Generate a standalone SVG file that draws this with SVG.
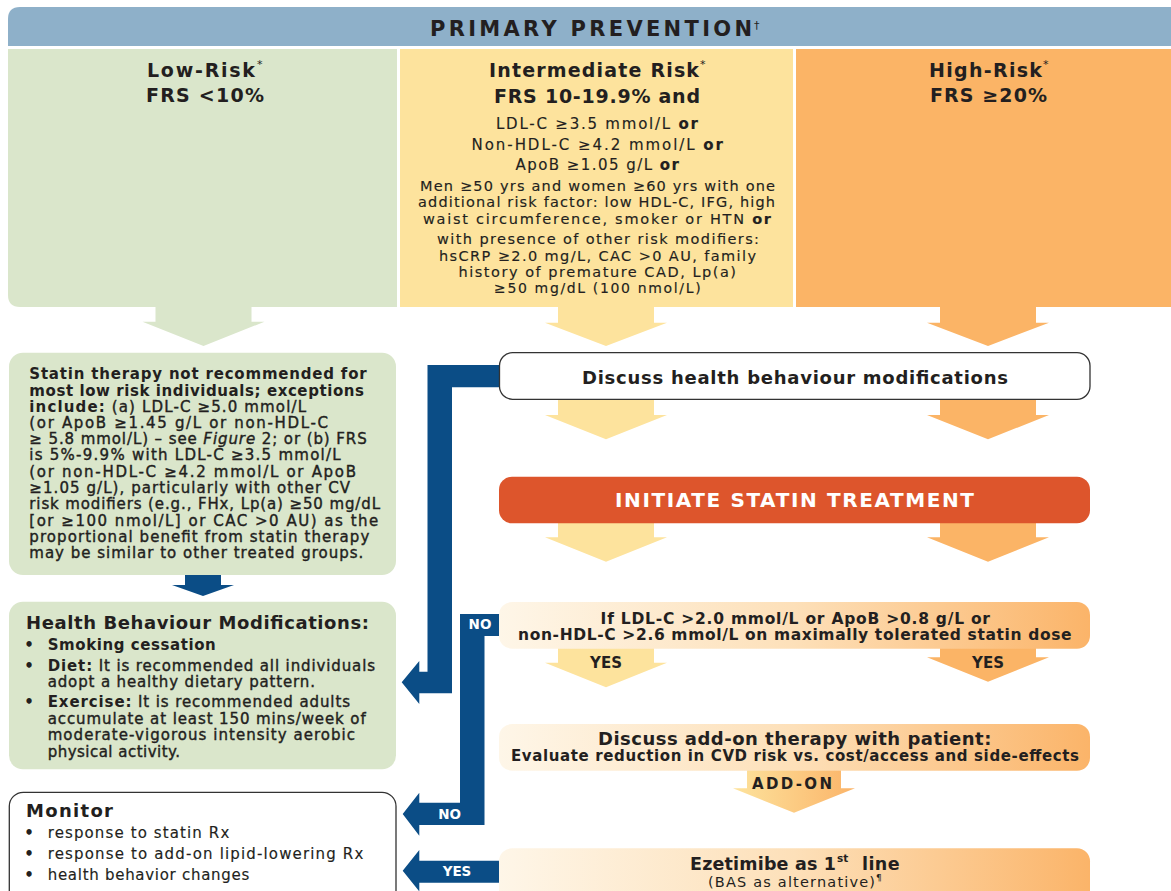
<svg xmlns="http://www.w3.org/2000/svg" width="1171" height="891" viewBox="0 0 1171 891">
<defs>
<linearGradient id="gOr" x1="0" y1="0" x2="1" y2="0">
<stop offset="0" stop-color="#fef6e8"/>
<stop offset="0.5" stop-color="#fde0b9"/>
<stop offset="1" stop-color="#fbb469"/>
</linearGradient>
<linearGradient id="gAdd" x1="0" y1="0" x2="1" y2="0">
<stop offset="0" stop-color="#fde39d"/>
<stop offset="1" stop-color="#fbb469"/>
</linearGradient>
<style>
text{font-family:"DejaVu Sans","Liberation Sans",Arial,sans-serif;fill:#231f20}
.b{font-weight:bold}
.m{font-weight:normal;stroke:#231f20;stroke-width:0.4}
.r{font-weight:normal}
.y{font-weight:normal;stroke:#231f20;stroke-width:0.15}
.s145{font-size:14.5px}
.s15{font-size:15px}
.s18{font-size:18px}
.s19{font-size:19px}
.w{fill:#ffffff}
.lbl{font-size:13.5px;font-weight:bold;fill:#ffffff}
.sup{font-size:11px}
.green{fill:#dae6cb}
.yellow{fill:#fde39d}
.orange{fill:#fbb466}
.blue{fill:#0b4d86}
.outline{fill:#ffffff;stroke:#333333;stroke-width:1.3}
</style>
</defs>

<g id="header">
<path d="M8,19 Q8,7 20,7 H1171 V46 H8 Z" fill="#8eb0c9"/>
<text class="b" font-size="21" x="430" y="35.5" textLength="322" lengthAdjust="spacing">PRIMARY PREVENTION</text>
<text class="sup" x="754" y="29">†</text>
</g>

<g id="col-low">
<path d="M8,49 H397 V307 H20 Q8,307 8,295 Z" class="green"/>
<text class="b s19" x="147" y="77" textLength="108" lengthAdjust="spacing">Low-Risk</text>
<text class="sup" x="257" y="68">*</text>
<text class="b s19" x="146" y="102" textLength="118" lengthAdjust="spacing">FRS &lt;10%</text>
</g>

<g id="col-intermediate">
<rect x="400" y="49" width="393" height="258" class="yellow"/>
<text class="b s19" x="489" y="77" textLength="210" lengthAdjust="spacing">Intermediate Risk</text>
<text class="sup" x="700" y="68">*</text>
<text class="b s19" x="494" y="103" textLength="206" lengthAdjust="spacing">FRS 10-19.9% and</text>
<text class="y s15" x="496" y="128.8" textLength="202" lengthAdjust="spacing">LDL-C ≥3.5 mmol/L <tspan class="b">or</tspan></text>
<text class="y s15" x="471.5" y="149.5" textLength="251.5" lengthAdjust="spacing">Non-HDL-C ≥4.2 mmol/L <tspan class="b">or</tspan></text>
<text class="y s15" x="515.5" y="170.2" textLength="163.5" lengthAdjust="spacing">ApoB ≥1.05 g/L <tspan class="b">or</tspan></text>
<text class="y s145" x="420" y="191" textLength="355" lengthAdjust="spacing">Men ≥50 yrs and women ≥60 yrs with one</text>
<text class="y s145" x="418" y="207.3" textLength="357" lengthAdjust="spacing">additional risk factor: low HDL-C, IFG, high</text>
<text class="y s145" x="423" y="223.6" textLength="348" lengthAdjust="spacing">waist circumference, smoker or HTN <tspan class="b">or</tspan></text>
<text class="y s145" x="437" y="244.3" textLength="322" lengthAdjust="spacing">with presence of other risk modifiers:</text>
<text class="y s145" x="439" y="260.6" textLength="317" lengthAdjust="spacing">hsCRP ≥2.0 mg/L, CAC &gt;0 AU, family</text>
<text class="y s145" x="458.5" y="276.6" textLength="277.5" lengthAdjust="spacing">history of premature CAD, Lp(a)</text>
<text class="y" font-size="14" x="494" y="293.2" textLength="206.6" lengthAdjust="spacing">≥50 mg/dL (100 nmol/L)</text>
</g>

<g id="col-high">
<rect x="796" y="49" width="375" height="258" class="orange"/>
<text class="b s19" x="929" y="77" textLength="113" lengthAdjust="spacing">High-Risk</text>
<text class="sup" x="1043" y="68">*</text>
<text class="b s19" x="930" y="102" textLength="117" lengthAdjust="spacing">FRS ≥20%</text>
</g>

<g id="connectors">
<polygon class="green" points="155.5,307 251.5,307 251.5,321.7 264.5,321.7 203.5,346 142.5,321.7 155.5,321.7"/>
<polygon class="yellow" points="558,307 654,307 654,322.7 667,322.7 606,346 545,322.7 558,322.7"/>
<polygon class="orange" points="940,307 1036,307 1036,322.7 1049,322.7 988,346 927,322.7 940,322.7"/>
<polygon class="yellow" points="558,399 654,399 654,415 667,415 606,439.3 545,415 558,415"/>
<polygon class="orange" points="940,399 1036,399 1036,415 1049,415 988,439.3 927,415 940,415"/>
<polygon class="yellow" points="558,523 654,523 654,537.3 667,537.3 606,561.7 545,537.3 558,537.3"/>
<polygon class="orange" points="940,523 1036,523 1036,537.3 1049,537.3 988,561.7 927,537.3 940,537.3"/>
<polygon class="yellow" points="558,648 654,648 654,662.7 667,662.7 606,687.3 545,662.7 558,662.7"/>
<polygon class="orange" points="940,648 1036,648 1036,657.3 1049,657.3 988,681.7 927,657.3 940,657.3"/>
<polygon fill="url(#gAdd)" points="747,770 841,770 841,788.3 855,788.3 794,812.7 733,788.3 747,788.3"/>
<polygon class="blue" points="185,575 221,575 221,585 234,585 203,596 172,585 185,585"/>
<path class="blue" d="M499.5,365 H427.5 V671.7 H419.3 V661 L401.7,682.3 L419.3,704 V693.3 H452 V387.3 H499.5 Z"/>
<path class="blue" d="M460,614 H499.5 V636 H484.5 V825 H419.3 V835.7 L402.7,814 L419.3,792.7 V802.7 H460 Z"/>
<path class="blue" d="M499.5,860.7 H419.3 V850 L402.7,870.7 L419.3,891.4 V882.7 H499.5 Z"/>
<text class="b" x="606" y="668" font-size="15" text-anchor="middle">YES</text>
<text class="b" x="988" y="668" font-size="15" text-anchor="middle">YES</text>
<text class="b" x="752" y="788.6" font-size="15" textLength="80" lengthAdjust="spacing">ADD-ON</text>
<text class="lbl" x="480" y="629.3" text-anchor="middle">NO</text>
<text class="lbl" x="449.7" y="819" text-anchor="middle">NO</text>
<text class="lbl" x="457" y="875.8" text-anchor="middle">YES</text>
</g>

<g id="statin-low">
<rect x="9" y="352.7" width="387" height="222.3" rx="14" class="green"/>
<text class="b s15" x="29.3" y="378.8" textLength="337.4" lengthAdjust="spacing">Statin therapy not recommended for</text>
<text class="b s15" x="29.3" y="395.5" textLength="334.7" lengthAdjust="spacing">most low risk individuals; exceptions</text>
<text class="b s15" x="29.3" y="411.5" textLength="276.7" lengthAdjust="spacing">include:<tspan class="m"> (a) LDL-C ≥5.0 mmol/L</tspan></text>
<text class="m s15" x="29.3" y="427.5" textLength="298.7" lengthAdjust="spacing">(or ApoB ≥1.45 g/L or non-HDL-C</text>
<text class="m s15" x="29.3" y="443.8" textLength="337.4" lengthAdjust="spacing">≥ 5.8 mmol/L) – see <tspan font-style="italic">Figure</tspan> 2; or (b) FRS</text>
<text class="m s15" x="29.3" y="459.8" textLength="311.4" lengthAdjust="spacing">is 5%-9.9% with LDL-C ≥3.5 mmol/L</text>
<text class="m s15" x="29.3" y="476.5" textLength="326.7" lengthAdjust="spacing">(or non-HDL-C ≥4.2 mmol/L or ApoB</text>
<text class="m s15" x="29.3" y="492.8" textLength="320.7" lengthAdjust="spacing">≥1.05 g/L), particularly with other CV</text>
<text class="m s15" x="29.3" y="508.8" textLength="350.7" lengthAdjust="spacing">risk modifiers (e.g., FHx, Lp(a) ≥50 mg/dL</text>
<text class="m s15" x="29.3" y="525.5" textLength="349" lengthAdjust="spacing">[or ≥100 nmol/L] or CAC &gt;0 AU) as the</text>
<text class="m s15" x="29.3" y="541.5" textLength="340" lengthAdjust="spacing">proportional benefit from statin therapy</text>
<text class="m s15" x="29.3" y="558.2" textLength="334" lengthAdjust="spacing">may be similar to other treated groups.</text>
</g>

<g id="health-behaviour">
<rect x="9" y="601.7" width="387" height="167.6" rx="14" class="green"/>
<text class="b s18" x="26" y="628.8" textLength="343" lengthAdjust="spacing">Health Behaviour Modifications:</text>
<text class="b s15" x="24.2" y="649.5">•</text>
<text class="b s15" x="47.7" y="649.5" textLength="168" lengthAdjust="spacing">Smoking cessation</text>
<text class="b s15" x="24.2" y="670.5">•</text>
<text class="b s15" x="47.7" y="670.5" textLength="327.3" lengthAdjust="spacing">Diet:<tspan class="m"> It is recommended all individuals</tspan></text>
<text class="m s15" x="47.7" y="686.5" textLength="267.3" lengthAdjust="spacing">adopt a healthy dietary pattern.</text>
<text class="b s15" x="24.2" y="707.2">•</text>
<text class="b s15" x="47.7" y="707.2" textLength="302.3" lengthAdjust="spacing">Exercise:<tspan class="m"> It is recommended adults</tspan></text>
<text class="m s15" x="47.7" y="723.5" textLength="318" lengthAdjust="spacing">accumulate at least 150 mins/week of</text>
<text class="m s15" x="47.7" y="739.8" textLength="307.3" lengthAdjust="spacing">moderate-vigorous intensity aerobic</text>
<text class="m s15" x="47.7" y="756.5" textLength="132.3" lengthAdjust="spacing">physical activity.</text>
</g>

<g id="monitor">
<rect x="9.3" y="792.3" width="386.7" height="112" rx="14" class="outline"/>
<text class="b s18" x="26" y="817.2" textLength="87" lengthAdjust="spacing">Monitor</text>
<text class="b s15" x="24.2" y="838.2">•</text>
<text class="y s15" x="47.7" y="838.2" textLength="181.6" lengthAdjust="spacing">response to statin Rx</text>
<text class="b s15" x="24.2" y="858.8">•</text>
<text class="y s15" x="47.7" y="858.8" textLength="315.6" lengthAdjust="spacing">response to add-on lipid-lowering Rx</text>
<text class="b s15" x="24.2" y="879.5">•</text>
<text class="y s15" x="47.7" y="879.5" textLength="201.6" lengthAdjust="spacing">health behavior changes</text>
</g>

<g id="discuss-health">
<rect x="499.5" y="352.7" width="590.5" height="46.6" rx="13" class="outline"/>
<text class="b s18" x="582" y="383.5" textLength="426" lengthAdjust="spacing">Discuss health behaviour modifications</text>
</g>

<g id="initiate-statin">
<rect x="499" y="476.7" width="591" height="46.6" rx="13" fill="#dd552c"/>
<text class="b w" font-size="20" x="615" y="507.2" textLength="359" lengthAdjust="spacing">INITIATE STATIN TREATMENT</text>
</g>

<g id="ldl-check">
<rect x="499" y="602" width="591" height="46.7" rx="13" fill="url(#gOr)"/>
<text class="b" font-size="15.5" x="600.6" y="623.9" textLength="389.4" lengthAdjust="spacing">If LDL-C &gt;2.0 mmol/L or ApoB &gt;0.8 g/L or</text>
<text class="b" font-size="15.5" x="518" y="639.9" textLength="553.6" lengthAdjust="spacing">non-HDL-C &gt;2.6 mmol/L on maximally tolerated statin dose</text>
</g>

<g id="discuss-addon">
<rect x="499" y="724" width="591" height="46.7" rx="13" fill="url(#gOr)"/>
<text class="b s18" x="598" y="744.8" textLength="393.4" lengthAdjust="spacing">Discuss add-on therapy with patient:</text>
<text class="b s15" x="511" y="761.2" textLength="568" lengthAdjust="spacing">Evaluate reduction in CVD risk vs. cost/access and side-effects</text>
</g>

<g id="ezetimibe">
<rect x="499" y="848.3" width="591" height="60" rx="13" fill="url(#gOr)"/>
<text class="b" font-size="17.5" x="690" y="870.3" textLength="146" lengthAdjust="spacing">Ezetimibe as 1</text>
<text class="b" font-size="10.5" x="837" y="862">st</text>
<text class="b" font-size="17.5" x="862" y="870.3" textLength="37.5" lengthAdjust="spacing">line</text>
<text class="r" font-size="14.5" x="708" y="886.9" textLength="167" lengthAdjust="spacing">(BAS as alternative)</text>
<text class="r" font-size="9" x="876" y="881">¶</text>
</g>
</svg>
